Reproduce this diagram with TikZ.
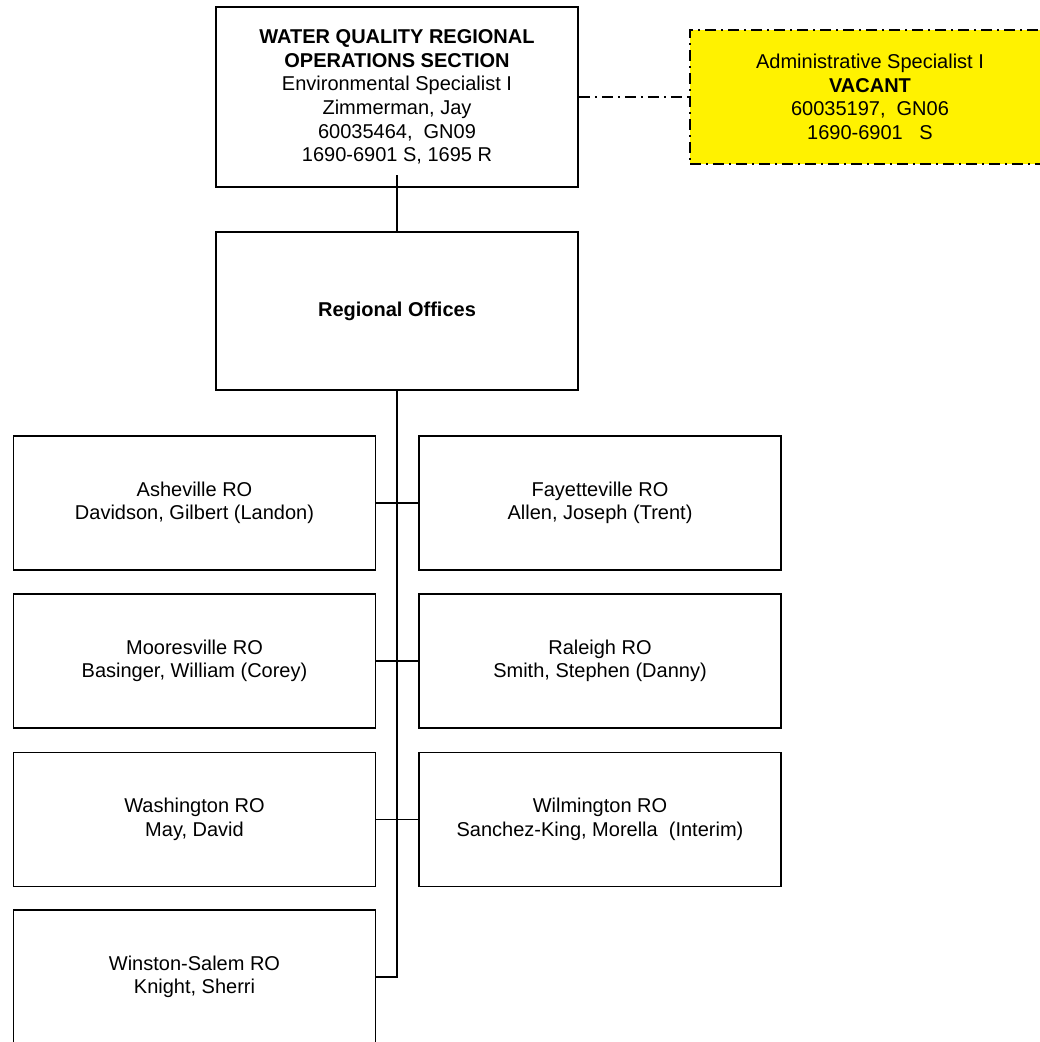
\documentclass[tikz,border=0pt]{standalone}
\usepackage{fontspec}
\setmainfont{Liberation Sans}

\begin{document}
\begin{tikzpicture}[x=1pt,y=-1pt,
  box/.style={draw, line width=1.7pt, align=center, inner sep=0pt,
    minimum width=362pt, minimum height=134pt,
    font=\fontsize{20}{23.6}\selectfont},
  vacantbox/.style={box, fill=yellow, minimum width=360pt,
    dash pattern=on 11pt off 5pt on 2pt off 5pt},
  link/.style={line width=1.3pt},
  dotlink/.style={link, dash pattern=on 11pt off 5pt on 2pt off 5pt}]

\useasboundingbox (0,0) rectangle (1040,1042);
\clip (0,0) rectangle (1040,1042);

% section head and staff
\node[box, minimum height=180pt] (head) at (397,97)
  {\textbf{WATER QUALITY REGIONAL}\\\textbf{OPERATIONS SECTION}\\Environmental Specialist I\\Zimmerman, Jay\\60035464,\ \ GN09\\1690-6901 S, 1695 R};
\node[vacantbox] (admin) at (870,97)
  {Administrative Specialist I\\\textbf{VACANT}\\60035197,\ \ GN06\\1690-6901\ \ \ S};

\node[box, minimum height=158pt] (reg) at (397,311) {\textbf{Regional Offices}};

% regional offices
\node[box] (ash) at (194.5,503) {Asheville RO\\Davidson, Gilbert (Landon)};
\node[box] (fay) at (600,503) {Fayetteville RO\\Allen, Joseph (Trent)};
\node[box] (moo) at (194.5,661) {Mooresville RO\\Basinger, William (Corey)};
\node[box] (ral) at (600,661) {Raleigh RO\\Smith, Stephen (Danny)};
\node[box] (was) at (194.5,819.5) {Washington RO\\May, David};
\node[box] (wil) at (600,819.5) {Wilmington RO\\Sanchez-King, Morella\ \ (Interim)};
\node[box] (win) at (194.5,977) {Winston-Salem RO\\Knight, Sherri};

\coordinate (stub) at (397,175);
\coordinate (trunkend) at (397,977);

\draw[link] (stub) -- (reg.north);
\draw[dotlink] (head.east) -- (admin.west);
\draw[link] (reg.south) -- (trunkend) -- (win.east);
\draw[link] (ash.east) -- (fay.west);
\draw[link] (moo.east) -- (ral.west);
\draw[link] (was.east) -- (wil.west);

\end{tikzpicture}
\end{document}
